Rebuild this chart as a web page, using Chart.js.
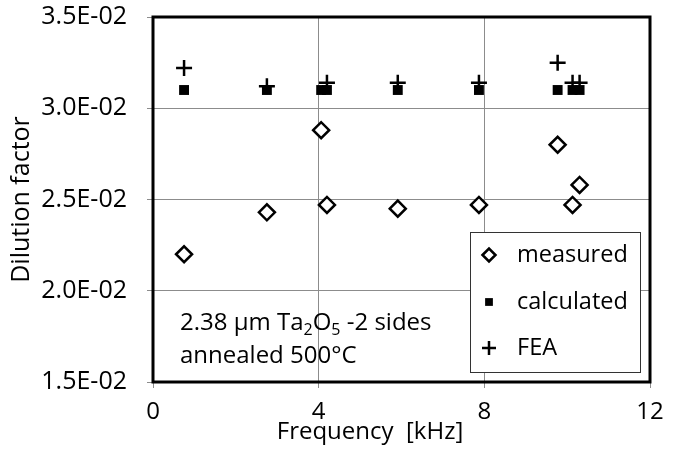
<!DOCTYPE html>
<html>
<head>
<meta charset="utf-8">
<script src="https://cdn.jsdelivr.net/npm/chart.js@4.4.1/dist/chart.umd.min.js"></script>
<style>
	html, body { margin: 0; padding: 0; background: #fff; }
	#chart { display: block; }
</style>
</head>
<body>
<canvas id="chart" width="675" height="470"></canvas>
<script>
// Frequency in kHz (shared by all three series)
const freq = [0.75, 2.75, 4.06, 4.2, 5.91, 7.87, 9.77, 10.13, 10.3];
const measured = [0.0220, 0.0243, 0.0288, 0.0247, 0.0245, 0.0247, 0.0280, 0.0247, 0.0258];
const calculated = [0.0310, 0.0310, 0.0310, 0.0310, 0.0310, 0.0310, 0.0310, 0.0310, 0.0310];
const fea = [0.0322, 0.0312, null, 0.0314, 0.0314, 0.0314, 0.0325, 0.0314, 0.0314];

const xTicks = [0, 4, 8, 12];
const yTicks = [0.015, 0.020, 0.025, 0.030, 0.035];
const yTickLabels = ['1.5E-02', '2.0E-02', '2.5E-02', '3.0E-02', '3.5E-02'];

const FONT = '"Open Sans", sans-serif';

function toPoints(values) {
	return freq.map((f, i) => ({ x: f, y: values[i] })).filter(p => p.y !== null);
}

/* Box round the plot, legend, note text and x title */
const extrasPlugin = {
	id: 'extras',
	afterDatasetsDraw(chart) {
		const ctx = chart.ctx;
		const area = chart.chartArea;
		ctx.save();

		// frame
		ctx.strokeStyle = '#000';
		ctx.lineWidth = 3;
		ctx.strokeRect(area.left, area.top, area.right - area.left, area.bottom - area.top);

		// legend box
		const lx = 470, ly = 232, lw = 170, lh = 140;
		ctx.fillStyle = '#fff';
		ctx.fillRect(lx, ly, lw, lh);
		ctx.strokeStyle = '#333';
		ctx.lineWidth = 1;
		ctx.strokeRect(lx + 0.5, ly + 0.5, lw, lh);

		const rowY = [255, 302, 348];
		const legendRadius = [6.5, 5.5, 7];
		chart.data.datasets.forEach((ds, i) => {
			ctx.fillStyle = ds.backgroundColor;
			ctx.strokeStyle = ds.borderColor;
			ctx.lineWidth = ds.borderWidth;
			Chart.helpers.drawPoint(ctx, {
				pointStyle: ds.pointStyle,
				radius: legendRadius[i],
				rotation: 0,
				borderWidth: ds.borderWidth
			}, 489, rowY[i]);
			ctx.fillStyle = '#000';
			ctx.font = '23.5px ' + FONT;
			ctx.textAlign = 'left';
			ctx.textBaseline = 'middle';
			ctx.fillText(ds.label, 517, rowY[i]);
		});

		// note text with subscripts
		ctx.fillStyle = '#000';
		ctx.textAlign = 'left';
		ctx.textBaseline = 'alphabetic';
		const big = '24px ' + FONT;
		const small = '16px ' + FONT;
		const parts = [
			{ t: '2.38 µm Ta', f: big, dy: 0 },
			{ t: '2', f: small, dy: 5 },
			{ t: 'O', f: big, dy: 0 },
			{ t: '5', f: small, dy: 5 },
			{ t: ' -2 sides', f: big, dy: 0 }
		];
		let x = 180;
		parts.forEach(p => {
			ctx.font = p.f;
			ctx.fillText(p.t, x, 330 + p.dy);
			x += ctx.measureText(p.t).width;
		});
		ctx.font = big;
		ctx.fillText('annealed 500°C', 180, 363);

		// x axis title
		ctx.font = '24px ' + FONT;
		ctx.textAlign = 'center';
		ctx.textBaseline = 'middle';
		ctx.fillText('Frequency  [kHz]', 370, 432);

		ctx.restore();
	}
};

new Chart(document.getElementById('chart'), {
	type: 'scatter',
	data: {
		datasets: [{
			label: 'measured',
			data: toPoints(measured),
			pointStyle: 'rectRot',
			pointRadius: 8,
			pointHoverRadius: 8,
			borderWidth: 2.5,
			borderColor: '#000',
			backgroundColor: '#fff',
			order: 1
		}, {
			label: 'calculated',
			data: toPoints(calculated),
			pointStyle: 'rect',
			pointRadius: 7,
			pointHoverRadius: 7,
			borderWidth: 0,
			borderColor: '#000',
			backgroundColor: '#000',
			order: 2
		}, {
			label: 'FEA',
			data: toPoints(fea),
			pointStyle: 'cross',
			pointRadius: 8,
			pointHoverRadius: 8,
			borderWidth: 2.5,
			borderColor: '#000',
			backgroundColor: '#000',
			order: 0
		}]
	},
	options: {
		responsive: false,
		animation: false,
		layout: { padding: { left: 0, right: 25, top: 17, bottom: 0 } },
		plugins: {
			legend: { display: false },
			tooltip: { enabled: false }
		},
		scales: {
			x: {
				type: 'linear',
				min: 0,
				max: 12,
				afterBuildTicks: scale => { scale.ticks = xTicks.map(v => ({ value: v })); },
				afterFit: scale => {
					scale.height = 88;
					scale.paddingLeft = 0;
					scale.paddingRight = 0;
				},
				grid: { color: '#8c8c8c', lineWidth: 1, tickLength: 6 },
				border: { display: false },
				ticks: {
					padding: 10,
					color: '#000',
					font: { family: FONT, size: 24 },
					maxRotation: 0
				}
			},
			y: {
				type: 'linear',
				min: 0.015,
				max: 0.035,
				afterBuildTicks: scale => { scale.ticks = yTicks.map(v => ({ value: v })); },
				afterFit: scale => {
					scale.width = 153;
					scale.paddingTop = 0;
					scale.paddingBottom = 0;
				},
				grid: { color: '#8c8c8c', lineWidth: 1, tickLength: 6 },
				border: { display: false },
				ticks: {
					padding: 20,
					color: '#000',
					font: { family: FONT, size: 25 },
					callback: (value, index) => yTickLabels[index]
				},
				title: {
					display: true,
					text: 'Dilution factor',
					color: '#000',
					font: { family: FONT, size: 25 },
					padding: { top: 7, bottom: 0 }
				}
			}
		}
	},
	plugins: [extrasPlugin]
});
</script>
</body>
</html>
